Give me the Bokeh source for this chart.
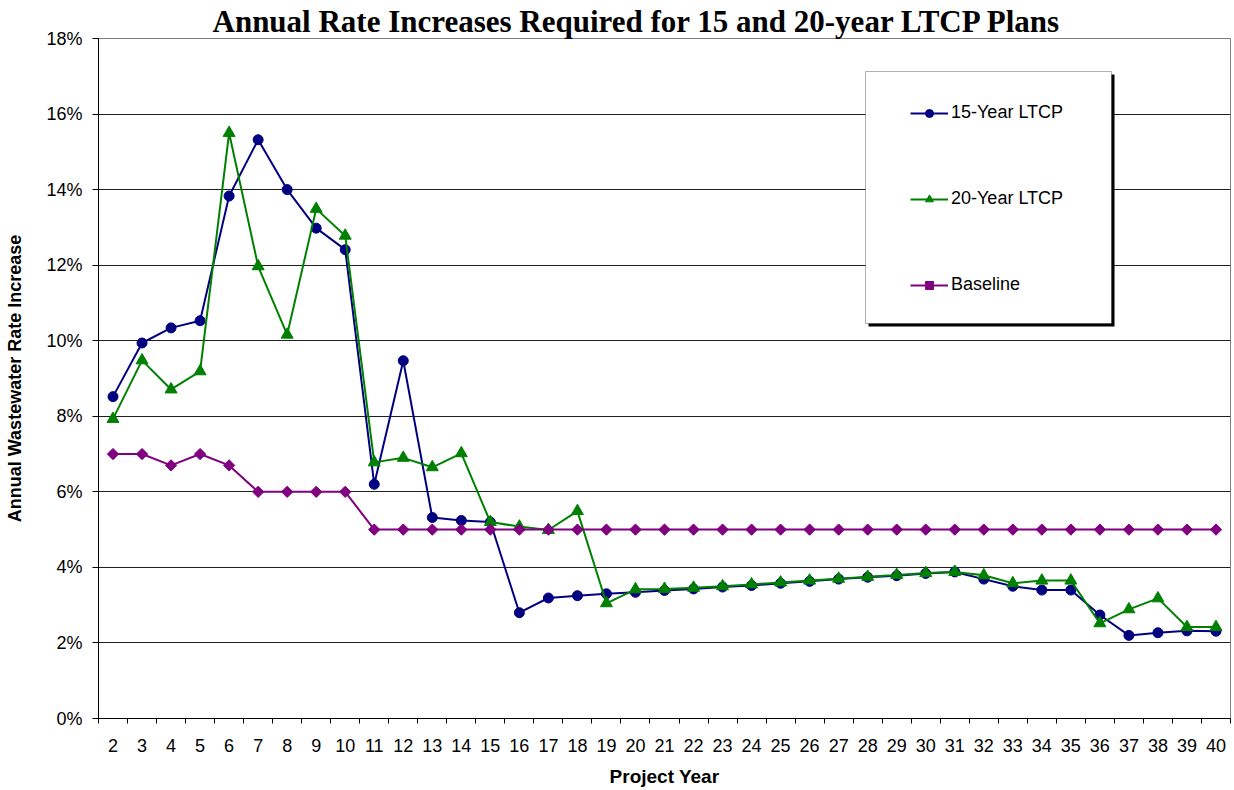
from bokeh.plotting import figure
from bokeh.models import (Range1d, FixedTicker, PrintfTickFormatter, Legend, LegendItem,
                          BoxAnnotation)
from bokeh.embed import file_html
from bokeh.resources import INLINE
import math

years = list(range(2, 41))
ltcp15 = [8.52, 9.94, 10.34, 10.53, 13.83, 15.32, 14.0, 12.98, 12.41, 6.2,
          9.47, 5.32, 5.24, 5.2, 2.8, 3.19, 3.25, 3.3, 3.34, 3.39,
          3.43, 3.48, 3.52, 3.58, 3.63, 3.69, 3.74, 3.78, 3.84, 3.88,
          3.69, 3.5, 3.4, 3.4, 2.74, 2.2, 2.27, 2.32, 2.31]
ltcp20 = [7.93, 9.48, 8.71, 9.19, 15.5, 11.97, 10.16, 13.49, 12.78, 6.78,
          6.9, 6.65, 7.02, 5.2, 5.08, 4.99, 5.49, 3.05, 3.42, 3.43,
          3.46, 3.5, 3.55, 3.6, 3.65, 3.7, 3.75, 3.8, 3.85, 3.88,
          3.79, 3.58, 3.65, 3.65, 2.52, 2.89, 3.18, 2.42, 2.42]
baseline = [7.0, 7.0, 6.7, 7.0, 6.7, 6.0, 6.0, 6.0, 6.0] + [5.0] * 30
y_ticks = [0, 2, 4, 6, 8, 10, 12, 14, 16, 18]
series_names = ["15-Year LTCP", "20-Year LTCP", "Baseline"]
title_text = "Annual Rate Increases Required for 15 and 20-year LTCP Plans"
x_title = "Project Year"
y_title = "Annual Wastewater Rate Increase"

FONT = "Liberation Sans"
NAVY, GREEN, PURPLE = "#000080", "#008000", "#800080"

p = figure(width=1234, height=790, x_range=Range1d(1.5, 40.5), y_range=Range1d(0, 18),
           output_backend="svg", toolbar_location=None, title=title_text,
           min_border_left=98, min_border_top=38, min_border_right=4, min_border_bottom=72,
           background_fill_color="white", border_fill_color="white")
p.outline_line_color = "#808080"
p.outline_line_width = 1

p.title.align = "left"
p.title.offset = 114
p.title.standoff = 0
p.title.text_font = "Liberation Serif"
p.title.text_font_style = "bold"
p.title.text_font_size = "31px"
p.title.text_color = "black"

# axes
p.xaxis.ticker = FixedTicker(ticks=years, minor_ticks=[y - 0.5 for y in years] + [40.5])
p.xaxis.major_tick_line_color = None
p.xaxis.major_tick_out = 5
p.xaxis.major_tick_in = 0
p.xaxis.minor_tick_out = 5
p.xaxis.minor_tick_in = 0
p.xaxis.minor_tick_line_color = "black"
p.xaxis.major_label_standoff = 15
p.xaxis.axis_label = x_title
p.xaxis.axis_label_standoff = 11

p.yaxis.ticker = FixedTicker(ticks=y_ticks, minor_ticks=[])
p.yaxis.formatter = PrintfTickFormatter(format="%d%%")
p.yaxis.major_tick_out = 6
p.yaxis.major_tick_in = 0
p.yaxis.major_label_standoff = 10
p.yaxis.axis_label = y_title
p.yaxis.axis_label_standoff = 18

for ax in (p.xaxis, p.yaxis):
    ax.axis_line_color = "black"
    ax.axis_line_width = 1
    ax.major_label_text_font = FONT
    ax.major_label_text_font_size = "18px"
    ax.major_label_text_color = "black"
    ax.axis_label_text_font = FONT
    ax.axis_label_text_font_style = "bold"
    ax.axis_label_text_color = "black"
p.xaxis.axis_label_text_font_size = "19px"
p.yaxis.axis_label_text_font_size = "18px"

p.xgrid.grid_line_color = None
p.ygrid.ticker = FixedTicker(ticks=y_ticks)
p.ygrid.grid_line_color = "#202020"
p.ygrid.grid_line_width = 1

# series
l1 = p.line(years, ltcp15, line_color=NAVY, line_width=2)
s1 = p.scatter(years, ltcp15, marker="circle", size=10, fill_color=NAVY, line_color=NAVY)
l2 = p.line(years, ltcp20, line_color=GREEN, line_width=2)
s2 = p.scatter(years, ltcp20, marker="triangle", size=12, fill_color=GREEN, line_color=GREEN)
l3 = p.line(years, baseline, line_color=PURPLE, line_width=2)
s3 = p.scatter(years, baseline, marker="square", size=8, angle=math.pi / 4,
               fill_color=PURPLE, line_color=PURPLE)

# legend box with shadow
p.add_layout(BoxAnnotation(left=770, right=1016, top=644, bottom=392,
                           left_units="screen", right_units="screen",
                           top_units="screen", bottom_units="screen",
                           fill_color="black", fill_alpha=1, line_color=None))
p.add_layout(BoxAnnotation(left=767, right=1013, top=647, bottom=395,
                           left_units="screen", right_units="screen",
                           top_units="screen", bottom_units="screen",
                           fill_color="white", fill_alpha=1, line_color="black",
                           line_width=1))

legend = Legend(items=[LegendItem(label=series_names[0], renderers=[l1, s1]),
                       LegendItem(label=series_names[1], renderers=[l2, s2]),
                       LegendItem(label=series_names[2], renderers=[l3, s3])],
                location=(812, 423), orientation="vertical",
                border_line_color=None, background_fill_alpha=0,
                padding=10, margin=0, spacing=65, glyph_width=38, glyph_height=20,
                label_height=20, label_standoff=3,
                label_text_font=FONT, label_text_font_size="18px", label_text_color="black")
p.add_layout(legend)

open("out.html", "w").write(file_html(p, INLINE))
